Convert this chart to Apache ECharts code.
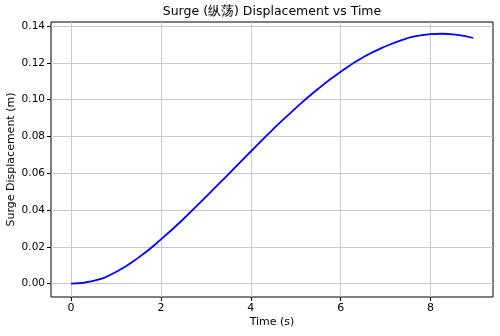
<!DOCTYPE html>
<html>
<head>
<meta charset="utf-8">
<script src="https://cdn.jsdelivr.net/npm/echarts@6/dist/echarts.min.js"></script>
<style>
  html, body { margin: 0; padding: 0; background: #fff; }
  #chart { width: 500px; height: 336px; }
</style>
</head>
<body>
<div id="chart"></div>
<script>
// time (s) and surge displacement (m)
const timeS = [0, 0.5, 1, 1.5, 2, 2.5, 3, 3.5, 4, 4.5, 5, 5.5, 6, 6.5, 7, 7.5, 7.75, 8, 8.25, 8.5, 8.75, 8.95];
const surgeM = [0, 0.0015, 0.0063, 0.0141, 0.0240, 0.0351, 0.0471, 0.0594, 0.0718, 0.0840, 0.0954, 0.1059, 0.1151, 0.1230, 0.1290, 0.1335, 0.1348, 0.1356, 0.1358, 0.1355, 0.1346, 0.1335];
const xTicks = [0, 2, 4, 6, 8];
const yTicks = [0, 0.02, 0.04, 0.06, 0.08, 0.10, 0.12, 0.14];

const font = "DejaVu Sans";
const chart = echarts.init(document.getElementById("chart"));

chart.setOption({
  backgroundColor: "#ffffff",
  animation: false,
  title: {
    text: "Surge (纵荡) Displacement vs Time",
    left: 272,
    textAlign: "center",
    top: 5,
    padding: 0,
    textStyle: { fontFamily: font, fontSize: 12.5, fontWeight: "normal", color: "#000" },
  },
  grid: {
    left: 51, right: 7, top: 22, bottom: 39,
    outerBoundsMode: "none",
    show: true, borderColor: "#000", borderWidth: 1,
  },
  xAxis: {
    type: "value",
    min: -0.447,
    max: 9.39,
    name: "Time (s)",
    nameLocation: "middle",
    nameGap: 20,
    nameMoveOverlap: false,
    nameTextStyle: { fontFamily: font, fontSize: 11, color: "#000" },
    axisLine: { show: false, onZero: false },
    axisTick: { show: true, length: 4, customValues: xTicks, lineStyle: { color: "#000" } },
    axisLabel: {
      customValues: xTicks, fontFamily: font, fontSize: 11, color: "#000", margin: 6,
      formatter: (v) => String(v),
    },
    splitLine: { show: true, lineStyle: { color: "#c8c8c8", width: 1 } },
  },
  yAxis: {
    type: "value",
    min: -0.0073,
    max: 0.1422,
    name: "Surge Displacement (m)",
    nameLocation: "middle",
    nameGap: 34,
    nameMoveOverlap: false,
    nameTextStyle: { fontFamily: font, fontSize: 11, color: "#000" },
    axisLine: { show: false, onZero: false },
    axisTick: { show: true, length: 4, customValues: yTicks, lineStyle: { color: "#000" } },
    axisLabel: {
      customValues: yTicks, fontFamily: font, fontSize: 10.5, color: "#000", margin: 6,
      formatter: (v) => v.toFixed(2),
    },
    splitLine: { show: true, lineStyle: { color: "#c8c8c8", width: 1 } },
  },
  series: [
    {
      type: "line",
      data: timeS.map((t, i) => [t, surgeM[i]]),
      smooth: true,
      showSymbol: false,
      lineStyle: { color: "#0000ff", width: 1.8 },
    },
  ],
});
</script>
</body>
</html>
